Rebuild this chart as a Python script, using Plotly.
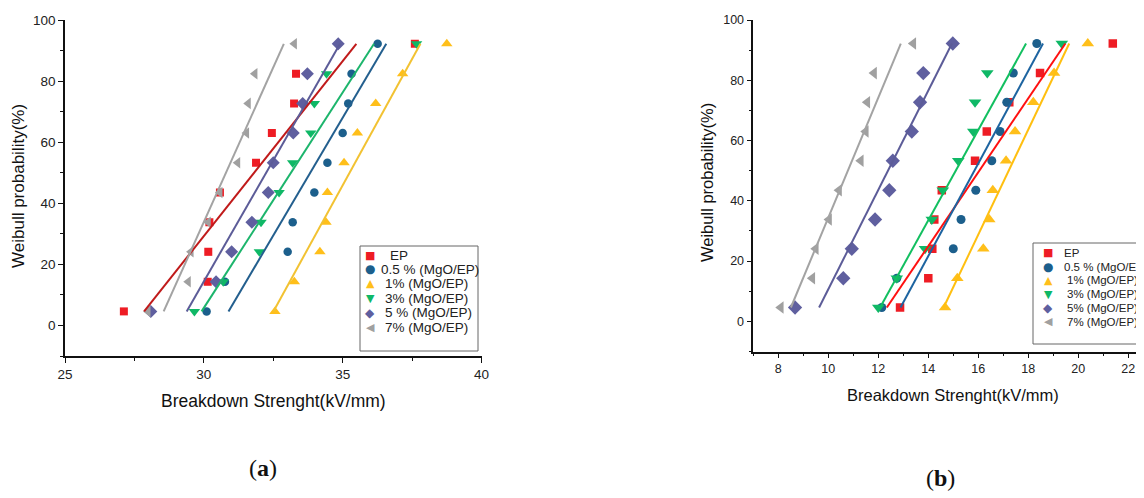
import numpy as np
import plotly.graph_objects as go

# page: body has an 8px default margin, so the figure is 1136x490 placed at (8, 8)
OFF = 8
W, H = 1144 - OFF, 498 - OFF

# ---------------- data ----------------
prob = [4.6, 14.3, 24.1, 33.8, 43.5, 53.3, 63.0, 72.7, 82.4, 92.2]

names_a = ["EP", "0.5 % (MgO/EP)", "1% (MgO/EP)", "3% (MgO/EP)", "5 % (MgO/EP)", "7% (MgO/EP)"]
names_b = ["EP", "0.5 % (MgO/EP)", "1% (MgO/EP)", "3% (MgO/EP)", "5% (MgO/EP)", "7% (MgO/EP)"]

# panel (a)
a_ep = [27.12, 30.14, 30.16, 30.20, 30.58, 31.88, 32.45, 33.25, 33.32, 37.60]
a_05 = [30.10, 30.76, 33.02, 33.20, 33.98, 34.45, 35.00, 35.20, 35.32, 36.26]
a_1 = [32.56, 33.26, 34.18, 34.40, 34.45, 35.05, 35.53, 36.19, 37.16, 38.75]
a_3 = [29.66, 30.70, 32.00, 32.06, 32.71, 33.20, 33.85, 33.98, 34.42, 37.66]
a_5 = [28.09, 30.44, 31.00, 31.73, 32.32, 32.50, 33.22, 33.56, 33.73, 34.84]
a_7 = [27.99, 29.44, 29.54, 30.16, 30.58, 31.22, 31.54, 31.60, 31.84, 33.26]

# panel (b)
b_ep = [12.87, 14.00, 14.16, 14.24, 14.54, 15.87, 16.34, 17.24, 18.47, 21.38]
b_05 = [12.14, 12.74, 15.00, 15.31, 15.90, 16.54, 16.87, 17.14, 17.40, 18.34]
b_1 = [14.67, 15.16, 16.20, 16.44, 16.58, 17.11, 17.47, 18.20, 19.03, 20.38]
b_3 = [12.00, 12.74, 13.87, 14.14, 14.58, 15.20, 15.80, 15.87, 16.36, 19.34]
b_5 = [8.67, 10.60, 10.94, 11.87, 12.44, 12.58, 13.34, 13.67, 13.80, 14.98]
b_7 = [8.10, 9.36, 9.50, 10.03, 10.43, 11.30, 11.50, 11.56, 11.83, 13.40]

x_ticks_a = [25, 30, 35, 40]
x_ticks_b = [8, 10, 12, 14, 16, 18, 20, 22]
y_ticks = [0, 20, 40, 60, 80, 100]

# ---------------- styles ----------------
symbols = ["square", "circle", "triangle-up", "triangle-down", "diamond", "triangle-left"]
glyphs = ["\u25A0", "\u25CF", "\u25B2", "\u25BC", "\u25C6", "\u25C0"]
mcolors = ["#ee1c24", "#1c5f8c", "#ffbf1a", "#0fb866", "#5f5f9f", "#a0a0a0"]
lcolors_a = ["#c01a1a", "#235f8e", "#f2c232", "#1cb56c", "#5c5c98", "#a3a3a3"]
lcolors_b = ["#ff1010", "#1d64a0", "#ffbf10", "#12bf60", "#5c5c98", "#a3a3a3"]
msize_a = [8, 8.5, 10, 10, 10, 10]
msize_b = [8.5, 9, 11, 11, 11, 11]

FONT = "Liberation Sans, Arial, sans-serif"
SERIF = "Liberation Serif, DejaVu Serif, serif"


def px_x(p):
    return (p - OFF) / W


def px_y(p):
    return (498 - p) / H


fig = go.Figure()

series_a = [a_ep, a_05, a_1, a_3, a_5, a_7]
series_b = [b_ep, b_05, b_1, b_3, b_5, b_7]

for i, vals in enumerate(series_a):
    fig.add_trace(go.Scatter(
        x=vals, y=prob, mode="markers", name=names_a[i],
        marker=dict(symbol=symbols[i], size=msize_a[i], color=mcolors[i], line=dict(width=0)),
        xaxis="x", yaxis="y"))
for i, vals in enumerate(series_b):
    fig.add_trace(go.Scatter(
        x=vals, y=prob, mode="markers", name=names_b[i],
        marker=dict(symbol=symbols[i], size=msize_b[i], color=mcolors[i], line=dict(width=0)),
        xaxis="x2", yaxis="y2"))


def fit_line(vals):
    b, a = np.polyfit(prob, vals, 1)
    ys = np.array([prob[0], prob[-1]])
    return a + b * ys, ys


for i, vals in enumerate(series_a):
    xs, ys = fit_line(vals)
    fig.add_trace(go.Scatter(x=xs, y=ys, mode="lines", showlegend=False,
                             line=dict(color=lcolors_a[i], width=2), xaxis="x", yaxis="y"))
for i, vals in enumerate(series_b):
    xs, ys = fit_line(vals)
    fig.add_trace(go.Scatter(x=xs, y=ys, mode="lines", showlegend=False,
                             line=dict(color=lcolors_b[i], width=2), xaxis="x2", yaxis="y2"))

axis_common = dict(showgrid=False, zeroline=False, showline=True, linecolor="#111",
                   linewidth=1.5, ticks="outside", tickcolor="#111", tickwidth=1.2,
                   ticklen=5, automargin=False)

xa0, xa1 = 65, 481.5
xb0 = 753.3
xb_max = 7 + (1144 - xb0) / 25.0

fig.update_layout(
    width=W, height=H, autosize=False, showlegend=False,
    margin=dict(l=0, r=0, t=0, b=0, pad=0),
    paper_bgcolor="white", plot_bgcolor="white",
    font=dict(family=FONT, color="#222"),
    xaxis=dict(domain=[px_x(xa0), px_x(xa1)], range=[25, 40], anchor="y",
               tickvals=x_ticks_a, tickfont=dict(size=13.5),
               minor=dict(dtick=2.5, tick0=25, ticks="outside", ticklen=3, tickcolor="#111"),
               **axis_common),
    yaxis=dict(domain=[px_y(356), px_y(20)], range=[-10, 100], anchor="x",
               tickvals=y_ticks, tickfont=dict(size=13.5),
               minor=dict(dtick=10, tick0=0, ticks="outside", ticklen=3, tickcolor="#111"),
               **axis_common),
    xaxis2=dict(domain=[px_x(xb0), 1.0], range=[7, xb_max], anchor="y2",
                tickvals=x_ticks_b, tickfont=dict(size=12.5),
                minor=dict(dtick=1, tick0=7, ticks="outside", ticklen=3, tickcolor="#111"),
                **axis_common),
    yaxis2=dict(domain=[px_y(351.5), px_y(20)], range=[-10, 100], anchor="x2",
                tickvals=y_ticks, tickfont=dict(size=12.5),
                minor=dict(dtick=10, tick0=0, ticks="outside", ticklen=3, tickcolor="#111"),
                **axis_common),
)

annotations = [
    dict(text="Breakdown Strenght(kV/mm)", x=px_x(273), y=px_y(401), font=dict(size=17.5)),
    dict(text="Breakdown Strenght(kV/mm)", x=px_x(953), y=px_y(395), font=dict(size=16.5)),
    dict(text="Weibull probability(%)", x=px_x(18), y=px_y(186), textangle=-90, font=dict(size=17)),
    dict(text="Weibull probability(%)", x=px_x(707), y=px_y(183), textangle=-90, font=dict(size=16.5)),
    dict(text="(<b>a</b>)", x=px_x(263), y=px_y(468), font=dict(size=24, family=SERIF)),
    dict(text="(<b>b</b>)", x=px_x(940), y=px_y(478), font=dict(size=24, family=SERIF)),
]

# ---- hand-built legends (boxes + symbols + labels) ----
shapes = [
    dict(type="rect", xref="paper", yref="paper", x0=px_x(360), x1=px_x(478),
         y0=px_y(351), y1=px_y(246), line=dict(color="#666", width=1), fillcolor="white",
         layer="above"),
    dict(type="rect", xref="paper", yref="paper", x0=px_x(1033), x1=px_x(1160),
         y0=px_y(344), y1=px_y(243), line=dict(color="#666", width=1), fillcolor="white",
         layer="above"),
]
text_x_a = [388, 379, 383, 383, 383, 383]
text_x_b = [1061.7, 1061.7, 1065, 1065, 1065, 1065]
glyph_size = [11, 12, 11, 11, 12, 11]
for i in range(6):
    ya = 255 + 14.46 * i
    yb = 252.7 + 13.8 * i
    annotations.append(dict(text=glyphs[i], x=px_x(370), y=px_y(ya), xanchor="center",
                            font=dict(size=glyph_size[i], color=mcolors[i], family="DejaVu Sans")))
    annotations.append(dict(text=names_a[i], x=px_x(text_x_a[i]), y=px_y(ya), xanchor="left",
                            font=dict(size=13.5, color="#222")))
    annotations.append(dict(text=glyphs[i], x=px_x(1048), y=px_y(yb), xanchor="center",
                            font=dict(size=glyph_size[i], color=mcolors[i], family="DejaVu Sans")))
    annotations.append(dict(text=names_b[i], x=px_x(text_x_b[i]), y=px_y(yb), xanchor="left",
                            font=dict(size=11.5, color="#222")))

for a in annotations:
    a.setdefault("xanchor", "center")
    a.update(xref="paper", yref="paper", showarrow=False, yanchor="middle")
    a["font"].setdefault("family", FONT)
    a["font"].setdefault("color", "#111")

fig.update_layout(annotations=annotations, shapes=shapes)

fig.write_html("out.html")
